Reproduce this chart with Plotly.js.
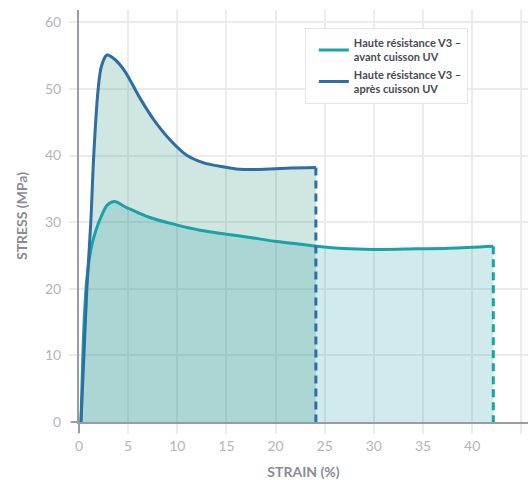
<!DOCTYPE html>
<html>
<head>
<meta charset="utf-8">
<script src="https://cdn.plot.ly/plotly-3.0.1.min.js"></script>
<style>html,body{margin:0;padding:0;background:#fff;}#chart{width:528px;height:480px;}</style>
</head>
<body>
<div id="chart"></div>
<script>
// Data
const avantName = "Haute résistance V3 –<br>avant cuisson UV";
const apresName = "Haute résistance V3 –<br>après cuisson UV";

const avantStrain = [0.2, 0.35, 0.55, 0.8, 1.2, 1.7, 2.3, 2.9, 3.6, 4.85, 7.2, 9.9, 12.3, 15.0, 17.4, 20.1, 22.5, 24.2, 27.6, 30.9, 34.3, 37.7, 42.15];
const avantStress = [0, 8, 16, 21.5, 25.8, 28.7, 31.0, 32.6, 33.1, 32.2, 30.7, 29.6, 28.8, 28.2, 27.7, 27.1, 26.7, 26.4, 26.0, 25.9, 26.0, 26.1, 26.4];

const apresStrain = [0.2, 0.5, 0.8, 1.2, 1.5, 1.95, 2.3, 2.85, 3.6, 4.6, 6.3, 7.6, 9.3, 11.0, 12.7, 14.3, 16.0, 17.7, 19.4, 21.1, 24.1];
const apresStress = [0, 10, 20, 30, 40, 50, 53.5, 55.1, 54.5, 52.8, 48.4, 45.4, 42.3, 40.0, 38.9, 38.4, 38.0, 37.9, 38.0, 38.1, 38.2];

const xTicks = [0, 5, 10, 15, 20, 25, 30, 35, 40, 45];
const yTicks = [0, 10, 20, 30, 40, 50, 60];

const cAvant = "#19a3a6";
const cApres = "#2f6ea3";
const font = "Lato, 'Open Sans', sans-serif";

const last = a => a[a.length - 1];

const traces = [
  {x: apresStrain, y: apresStress, type: "scatter", mode: "lines", line: {width: 0, shape: "spline"},
   fill: "tozeroy", fillcolor: "rgba(67,155,131,0.25)", showlegend: false, hoverinfo: "skip"},
  {x: avantStrain, y: avantStress, type: "scatter", mode: "lines", line: {width: 0, shape: "spline"},
   fill: "tozeroy", fillcolor: "rgba(45,160,170,0.22)", showlegend: false, hoverinfo: "skip"},
  {x: avantStrain, y: avantStress, type: "scatter", mode: "lines", name: avantName,
   line: {color: cAvant, width: 3, shape: "spline"}},
  {x: apresStrain, y: apresStress, type: "scatter", mode: "lines", name: apresName,
   line: {color: cApres, width: 3, shape: "spline"}},
  {x: [last(avantStrain), last(avantStrain)], y: [last(avantStress), 0], type: "scatter", mode: "lines",
   line: {color: cAvant, width: 3, dash: "8px,5px"}, showlegend: false},
  {x: [last(apresStrain), last(apresStrain)], y: [last(apresStress), 0], type: "scatter", mode: "lines",
   line: {color: cApres, width: 3, dash: "8px,5px"}, showlegend: false}
];

const axisLine = "#9b9ba7";
const layout = {
  width: 528, height: 480,
  margin: {l: 79, r: 0, t: 10, b: 58},
  paper_bgcolor: "#fff", plot_bgcolor: "#fff",
  font: {family: font},
  xaxis: {
    range: [0, 45.68], tickvals: xTicks, ticktext: xTicks.map(String),
    showgrid: true, gridcolor: "#ebebeb", gridwidth: 2, zeroline: false,
    showline: true, linecolor: axisLine, linewidth: 2,
    ticks: "outside", ticklen: 10, tickcolor: "#ebebeb", tickwidth: 2,
    tickfont: {family: font, size: 14, color: "#b5b5bd"},
    title: {text: "STRAIN (%)", font: {family: font, size: 14, color: "#8b8b96", weight: "bold"}, standoff: 16}
  },
  yaxis: {
    range: [0, 61.86], tickvals: yTicks, ticktext: yTicks.map(String),
    showgrid: true, gridcolor: "#ebebeb", gridwidth: 2, zeroline: false,
    showline: true, linecolor: axisLine, linewidth: 2,
    ticks: "outside", ticklen: 8, tickcolor: "#ebebeb", tickwidth: 2,
    ticklabelstandoff: 5,
    tickfont: {family: font, size: 14, color: "#b5b5bd"},
    title: {text: "STRESS (MPa)", font: {family: font, size: 14, color: "#8b8b96", weight: "bold"}, standoff: 14}
  },
  legend: {
    x: 0.503, y: 0.956, xanchor: "left", yanchor: "top",
    bgcolor: "#ffffff", bordercolor: "#e6e6e6", borderwidth: 1,
    font: {family: font, size: 11, color: "#4a4a55", weight: "bold"},
    tracegroupgap: 0, indentation: 8
  },
  shapes: [
    {type: "line", xref: "paper", yref: "paper", xsizemode: "pixel", xanchor: 0, x0: -8, x1: 0, y0: 0, y1: 0,
     line: {color: axisLine, width: 2}},
    {type: "line", xref: "paper", yref: "paper", ysizemode: "pixel", yanchor: 0, y0: -11, y1: 0, x0: 0, x1: 0,
     line: {color: axisLine, width: 2}}
  ],
  showlegend: true
};

Plotly.newPlot("chart", traces, layout, {displayModeBar: false, staticPlot: true});
</script>
</body>
</html>
